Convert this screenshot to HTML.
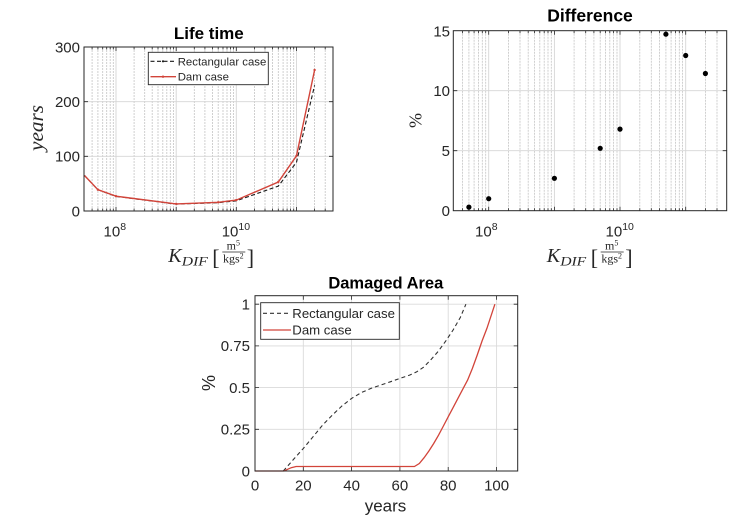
<!DOCTYPE html>
<html>
<head>
<meta charset="utf-8">
<style>
html,body{margin:0;padding:0;background:#fff;}
svg{display:block;}
text{font-family:"Liberation Sans",Arial,sans-serif;fill:#262626;}
.serif{font-family:"Liberation Serif","Times New Roman",serif;}
.it{font-style:italic;}
.title{font-weight:bold;fill:#000;}
</style>
</head>
<body>
<svg width="751" height="519" viewBox="0 0 751 519" xmlns="http://www.w3.org/2000/svg">
<rect width="751" height="519" fill="#fff"/>

<!-- ============ LIFE TIME ============ -->
<g>
  <!-- minor grid -->
  <path d="M92.1 47V211M97.9 47V211M102.7 47V211M106.7 47V211M110.2 47V211M113.3 47V211M134.1 47V211M144.7 47V211M152.2 47V211M158 47V211M162.8 47V211M166.8 47V211M170.3 47V211M173.4 47V211M194.3 47V211M204.9 47V211M212.4 47V211M218.2 47V211M223 47V211M227 47V211M230.5 47V211M233.6 47V211M254.4 47V211M265 47V211M272.5 47V211M278.3 47V211M283.1 47V211M287.1 47V211M290.6 47V211M293.7 47V211M314.6 47V211M325.2 47V211" stroke="#c4c4c4" stroke-width="0.8" stroke-dasharray="2 1" fill="none"/>
  <!-- major grid -->
  <path d="M116 47V211M176.2 47V211M236.3 47V211M296.5 47V211M84 156.3H333M84 101.7H333" stroke="#d6d6d6" stroke-width="0.9" fill="none"/>
  <!-- ticks -->
  <path d="M92.1 211v-2.5M97.9 211v-2.5M102.7 211v-2.5M106.7 211v-2.5M110.2 211v-2.5M113.3 211v-2.5M134.1 211v-2.5M144.7 211v-2.5M152.2 211v-2.5M158 211v-2.5M162.8 211v-2.5M166.8 211v-2.5M170.3 211v-2.5M173.4 211v-2.5M194.3 211v-2.5M204.9 211v-2.5M212.4 211v-2.5M218.2 211v-2.5M223 211v-2.5M227 211v-2.5M230.5 211v-2.5M233.6 211v-2.5M254.4 211v-2.5M265 211v-2.5M272.5 211v-2.5M278.3 211v-2.5M283.1 211v-2.5M287.1 211v-2.5M290.6 211v-2.5M293.7 211v-2.5M314.6 211v-2.5M325.2 211v-2.5
  M92.1 47v2.5M97.9 47v2.5M102.7 47v2.5M106.7 47v2.5M110.2 47v2.5M113.3 47v2.5M134.1 47v2.5M144.7 47v2.5M152.2 47v2.5M158 47v2.5M162.8 47v2.5M166.8 47v2.5M170.3 47v2.5M173.4 47v2.5M194.3 47v2.5M204.9 47v2.5M212.4 47v2.5M218.2 47v2.5M223 47v2.5M227 47v2.5M230.5 47v2.5M233.6 47v2.5M254.4 47v2.5M265 47v2.5M272.5 47v2.5M278.3 47v2.5M283.1 47v2.5M287.1 47v2.5M290.6 47v2.5M293.7 47v2.5M314.6 47v2.5M325.2 47v2.5
  M116 211v-4M176.2 211v-4M236.3 211v-4M296.5 211v-4M116 47v4M176.2 47v4M236.3 47v4M296.5 47v4
  M84 156.3h4M84 101.7h4M333 156.3h-4M333 101.7h-4" stroke="#262626" stroke-width="0.8" fill="none"/>
  <!-- series -->
  <polyline points="84.5,175.5 97.9,189.7 116,196.4 176.2,204.1 218.2,202.7 236.3,200.8 278.3,186.1 296.5,162.3 314.6,85.3" fill="none" stroke="#1a1a1a" stroke-width="1.1" stroke-dasharray="4 2.5"/>
  <polyline points="84.5,175.5 97.9,189.7 116,196.2 176.2,203.9 218.2,202.3 236.3,200.1 278.3,182 296.5,155.8 314.6,70" fill="none" stroke="#d2443a" stroke-width="1.4"/>
  <g fill="#d2443a">
    <circle cx="97.9" cy="189.7" r="1.2"/><circle cx="116" cy="196.2" r="1.2"/><circle cx="176.2" cy="203.9" r="1.2"/><circle cx="218.2" cy="202.3" r="1.2"/><circle cx="236.3" cy="200.1" r="1.2"/><circle cx="278.3" cy="182" r="1.2"/><circle cx="296.5" cy="155.8" r="1.2"/><circle cx="314.6" cy="70" r="1.2"/>
  </g>
  <!-- axes box -->
  <rect x="84" y="47" width="249" height="164" fill="none" stroke="#262626" stroke-width="1"/>
  <!-- legend -->
  <rect x="148.3" y="52.3" width="120" height="32.4" fill="#fff" stroke="#262626" stroke-width="0.9"/>
  <line x1="150.5" y1="61.3" x2="176" y2="61.3" stroke="#1a1a1a" stroke-width="1.1" stroke-dasharray="4 2.5"/>
  <circle cx="163" cy="61.3" r="1.1" fill="#1a1a1a"/>
  <line x1="150.5" y1="76.7" x2="176" y2="76.7" stroke="#d2443a" stroke-width="1.4"/>
  <circle cx="163" cy="76.7" r="1.2" fill="#d2443a"/>
  <text x="177.7" y="65.3" font-size="11.4" fill="#000">Rectangular case</text>
  <text x="177.7" y="80.7" font-size="11.4" fill="#000">Dam case</text>
  <!-- labels -->
  <text x="208.8" y="39" font-size="17" class="title" text-anchor="middle">Life time</text>
  <text x="80" y="52.3" font-size="15" text-anchor="end">300</text>
  <text x="80" y="107" font-size="15" text-anchor="end">200</text>
  <text x="80" y="161.6" font-size="15" text-anchor="end">100</text>
  <text x="80" y="216.3" font-size="15" text-anchor="end">0</text>
  <text x="103.5" y="236.5" font-size="15">10<tspan font-size="10.5" dy="-6.5">8</tspan></text>
  <text x="221.7" y="236.5" font-size="15">10<tspan font-size="10.5" dy="-6.5">10</tspan></text>
  <text class="serif it" transform="translate(43,128) rotate(-90)" text-anchor="middle" font-size="20" textLength="46" lengthAdjust="spacingAndGlyphs">years</text>
  <g transform="translate(168.3,262)">
    <text class="serif it" x="0" y="0" font-size="20">K</text>
    <text class="serif it" x="13.5" y="3.5" font-size="13" textLength="26" lengthAdjust="spacingAndGlyphs">DIF</text>
    <text class="serif" x="44" y="3" font-size="22">[</text>
    <text class="serif" x="65" y="-12.5" font-size="12" text-anchor="middle">m<tspan font-size="8" dy="-4">5</tspan></text>
    <line x1="54" y1="-10" x2="77" y2="-10" stroke="#262626" stroke-width="0.7"/>
    <text class="serif" x="65" y="0.5" font-size="12" text-anchor="middle">kgs<tspan font-size="8" dy="-4">2</tspan></text>
    <text class="serif" x="78.5" y="3" font-size="22">]</text>
  </g>
</g>

<!-- ============ DIFFERENCE ============ -->
<g>
  <path d="M462.6 30.7V210.7M468.9 30.7V210.7M474.1 30.7V210.7M478.5 30.7V210.7M482.3 30.7V210.7M485.7 30.7V210.7M508.5 30.7V210.7M520 30.7V210.7M528.2 30.7V210.7M534.6 30.7V210.7M539.8 30.7V210.7M544.2 30.7V210.7M548 30.7V210.7M551.3 30.7V210.7M574.1 30.7V210.7M585.7 30.7V210.7M593.9 30.7V210.7M600.2 30.7V210.7M605.4 30.7V210.7M609.8 30.7V210.7M613.6 30.7V210.7M617 30.7V210.7M639.8 30.7V210.7M651.3 30.7V210.7M659.5 30.7V210.7M665.9 30.7V210.7M671.1 30.7V210.7M675.5 30.7V210.7M679.3 30.7V210.7M682.6 30.7V210.7M705.4 30.7V210.7M717 30.7V210.7" stroke="#c4c4c4" stroke-width="0.8" stroke-dasharray="2 1" fill="none"/>
  <path d="M488.7 30.7V210.7M554.4 30.7V210.7M620 30.7V210.7M685.7 30.7V210.7M453.3 150.7H726.7M453.3 90.7H726.7" stroke="#d6d6d6" stroke-width="0.9" fill="none"/>
  <path d="M462.6 210.7v-2.5M468.9 210.7v-2.5M474.1 210.7v-2.5M478.5 210.7v-2.5M482.3 210.7v-2.5M485.7 210.7v-2.5M508.5 210.7v-2.5M520 210.7v-2.5M528.2 210.7v-2.5M534.6 210.7v-2.5M539.8 210.7v-2.5M544.2 210.7v-2.5M548 210.7v-2.5M551.3 210.7v-2.5M574.1 210.7v-2.5M585.7 210.7v-2.5M593.9 210.7v-2.5M600.2 210.7v-2.5M605.4 210.7v-2.5M609.8 210.7v-2.5M613.6 210.7v-2.5M617 210.7v-2.5M639.8 210.7v-2.5M651.3 210.7v-2.5M659.5 210.7v-2.5M665.9 210.7v-2.5M671.1 210.7v-2.5M675.5 210.7v-2.5M679.3 210.7v-2.5M682.6 210.7v-2.5M705.4 210.7v-2.5M717 210.7v-2.5
  M462.6 30.7v2.5M468.9 30.7v2.5M474.1 30.7v2.5M478.5 30.7v2.5M482.3 30.7v2.5M485.7 30.7v2.5M508.5 30.7v2.5M520 30.7v2.5M528.2 30.7v2.5M534.6 30.7v2.5M539.8 30.7v2.5M544.2 30.7v2.5M548 30.7v2.5M551.3 30.7v2.5M574.1 30.7v2.5M585.7 30.7v2.5M593.9 30.7v2.5M600.2 30.7v2.5M605.4 30.7v2.5M609.8 30.7v2.5M613.6 30.7v2.5M617 30.7v2.5M639.8 30.7v2.5M651.3 30.7v2.5M659.5 30.7v2.5M665.9 30.7v2.5M671.1 30.7v2.5M675.5 30.7v2.5M679.3 30.7v2.5M682.6 30.7v2.5M705.4 30.7v2.5M717 30.7v2.5
  M488.7 210.7v-4M554.4 210.7v-4M620 210.7v-4M685.7 210.7v-4M488.7 30.7v4M554.4 30.7v4M620 30.7v4M685.7 30.7v4
  M453.3 150.7h4M453.3 90.7h4M726.7 150.7h-4M726.7 90.7h-4" stroke="#262626" stroke-width="0.8" fill="none"/>
  <g fill="#000">
    <circle cx="468.9" cy="207.1" r="2.6"/>
    <circle cx="488.7" cy="198.7" r="2.6"/>
    <circle cx="554.4" cy="178.3" r="2.6"/>
    <circle cx="600.2" cy="148.3" r="2.6"/>
    <circle cx="620" cy="129.1" r="2.6"/>
    <circle cx="665.9" cy="34.2" r="2.6"/>
    <circle cx="685.7" cy="55.5" r="2.6"/>
    <circle cx="705.4" cy="73.5" r="2.6"/>
  </g>
  <rect x="453.3" y="30.7" width="273.4" height="180" fill="none" stroke="#262626" stroke-width="1"/>
  <text x="590" y="21.7" font-size="17.5" class="title" text-anchor="middle">Difference</text>
  <text x="450" y="36.3" font-size="15" text-anchor="end">15</text>
  <text x="450" y="96.2" font-size="15" text-anchor="end">10</text>
  <text x="450" y="156.2" font-size="15" text-anchor="end">5</text>
  <text x="450" y="216.2" font-size="15" text-anchor="end">0</text>
  <text x="475" y="236.5" font-size="15">10<tspan font-size="10.5" dy="-6.5">8</tspan></text>
  <text x="605.5" y="236.5" font-size="15">10<tspan font-size="10.5" dy="-6.5">10</tspan></text>
  <text class="serif" transform="translate(421.5,120.5) rotate(-90)" text-anchor="middle" font-size="18">%</text>
  <g transform="translate(546.7,262)">
    <text class="serif it" x="0" y="0" font-size="20">K</text>
    <text class="serif it" x="13.5" y="3.5" font-size="13" textLength="26" lengthAdjust="spacingAndGlyphs">DIF</text>
    <text class="serif" x="44" y="3" font-size="22">[</text>
    <text class="serif" x="65" y="-12.5" font-size="12" text-anchor="middle">m<tspan font-size="8" dy="-4">5</tspan></text>
    <line x1="54" y1="-10" x2="77" y2="-10" stroke="#262626" stroke-width="0.7"/>
    <text class="serif" x="65" y="0.5" font-size="12" text-anchor="middle">kgs<tspan font-size="8" dy="-4">2</tspan></text>
    <text class="serif" x="78.5" y="3" font-size="22">]</text>
  </g>
</g>

<!-- ============ DAMAGED AREA ============ -->
<g>
  <path d="M303.3 295.7V471M351.6 295.7V471M399.9 295.7V471M448.2 295.7V471M496.6 295.7V471M255 429.3H517.7M255 387.6H517.7M255 345.9H517.7M255 304.2H517.7" stroke="#dadada" stroke-width="0.9" fill="none"/>
  <path d="M303.3 471v-4M351.6 471v-4M399.9 471v-4M448.2 471v-4M496.6 471v-4M303.3 295.7v4M351.6 295.7v4M399.9 295.7v4M448.2 295.7v4M496.6 295.7v4
  M255 429.3h4M255 387.6h4M255 345.9h4M255 304.2h4M517.7 429.3h-4M517.7 387.6h-4M517.7 345.9h-4M517.7 304.2h-4" stroke="#262626" stroke-width="0.8" fill="none"/>
  <polyline points="283.3,471 293.6,459.3 303.3,448.5 313,436.8 322.6,425.1 332.3,415.1 342,405.9 351.6,398.4 361.3,392.6 371,388.4 380.6,385.1 390.3,381.8 399.9,378.4 409.6,375.1 416.8,371.8 424.1,366.8 431.3,359.2 438.6,350.9 445.8,340.9 453.1,330 460.3,317.5 465.9,304.2" fill="none" stroke="#333" stroke-width="1.1" stroke-dasharray="4 3"/>
  <polyline points="255,471 284,471 287.6,469.3 291.2,467.7 296.1,466.5 414.4,466.5 419.3,463.5 424.1,457.7 428.9,451 433.7,443.5 438.6,435.1 443.4,426 448.2,416.8 453.1,407.6 457.9,398.4 462.7,389.3 467.6,380.1 472.4,368.4 477.2,355.1 482.1,340.9 486.9,328.4 494.9,304.2" fill="none" stroke="#d2443a" stroke-width="1.3"/>
  <rect x="255" y="295.7" width="262.7" height="175.3" fill="none" stroke="#262626" stroke-width="1"/>
  <!-- legend -->
  <rect x="260.7" y="302.7" width="138.6" height="36.6" fill="#fff" stroke="#262626" stroke-width="0.9"/>
  <line x1="263" y1="313.3" x2="291" y2="313.3" stroke="#333" stroke-width="1.1" stroke-dasharray="4 3"/>
  <line x1="263" y1="330" x2="291" y2="330" stroke="#d2443a" stroke-width="1.3"/>
  <text x="292.3" y="318" font-size="13.2" fill="#000">Rectangular case</text>
  <text x="292.3" y="334.7" font-size="13.2" fill="#000">Dam case</text>
  <!-- labels -->
  <text x="385.8" y="288.5" font-size="16.5" class="title" text-anchor="middle">Damaged Area</text>
  <text x="250" y="309.5" font-size="15" text-anchor="end">1</text>
  <text x="250" y="351.2" font-size="15" text-anchor="end">0.75</text>
  <text x="250" y="392.9" font-size="15" text-anchor="end">0.5</text>
  <text x="250" y="434.6" font-size="15" text-anchor="end">0.25</text>
  <text x="250" y="476.3" font-size="15" text-anchor="end">0</text>
  <text x="255" y="490.5" font-size="15" text-anchor="middle">0</text>
  <text x="303.3" y="490.5" font-size="15" text-anchor="middle">20</text>
  <text x="351.6" y="490.5" font-size="15" text-anchor="middle">40</text>
  <text x="399.9" y="490.5" font-size="15" text-anchor="middle">60</text>
  <text x="448.2" y="490.5" font-size="15" text-anchor="middle">80</text>
  <text x="496.6" y="490.5" font-size="15" text-anchor="middle">100</text>
  <text x="385.5" y="511.5" font-size="17" text-anchor="middle">years</text>
  <text transform="translate(215,383) rotate(-90)" text-anchor="middle" font-size="18">%</text>
</g>
</svg>
</body>
</html>
